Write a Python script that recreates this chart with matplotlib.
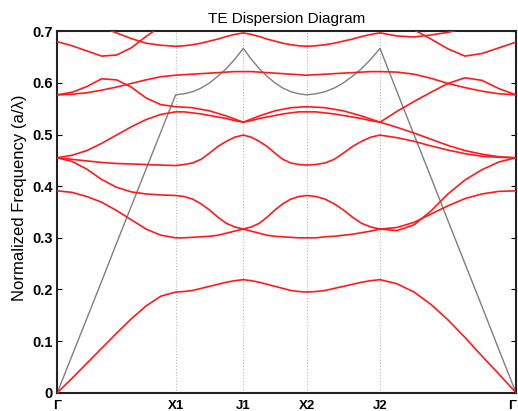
import matplotlib
matplotlib.use('Agg')
import matplotlib.pyplot as plt
import numpy as np

plt.rcParams['font.family'] = ['Liberation Sans', 'DejaVu Sans']

# high symmetry points along the path
K_LABELS = ['Γ', 'X1', 'J1', 'X2', 'J2', 'Γ']
K_POS = [0.0, 0.258, 0.4055, 0.5437, 0.7035, 1.0]
SEG_POINTS = [9, 9, 9, 9, 9]

# band frequencies (a/lambda) read along the path, 8 steps per segment
band1 = [0.0, 0.028, 0.057, 0.086, 0.115, 0.143, 0.168, 0.187, 0.195,
         0.196, 0.198, 0.202, 0.206, 0.210, 0.214, 0.217, 0.219,
         0.217, 0.214, 0.210, 0.206, 0.202, 0.198, 0.196, 0.195,
         0.196, 0.198, 0.202, 0.206, 0.210, 0.214, 0.217, 0.219,
         0.211, 0.195, 0.171, 0.141, 0.107, 0.071, 0.036, 0.0]
band2 = [0.391, 0.388, 0.380, 0.369, 0.353, 0.335, 0.317, 0.305, 0.300,
         0.300, 0.301, 0.302, 0.303, 0.305, 0.309, 0.313, 0.317,
         0.313, 0.309, 0.305, 0.303, 0.302, 0.301, 0.300, 0.300,
         0.300, 0.302, 0.303, 0.305, 0.307, 0.310, 0.313, 0.317,
         0.320, 0.330, 0.346, 0.362, 0.376, 0.385, 0.390, 0.391]
band3 = [0.455, 0.448, 0.433, 0.413, 0.398, 0.389, 0.385, 0.383, 0.382,
         0.380, 0.375, 0.366, 0.354, 0.340, 0.328, 0.321, 0.317,
         0.321, 0.328, 0.340, 0.354, 0.366, 0.375, 0.380, 0.382,
         0.380, 0.375, 0.366, 0.354, 0.340, 0.328, 0.321, 0.317,
         0.314, 0.325, 0.352, 0.385, 0.412, 0.432, 0.447, 0.455]
band4 = [0.455, 0.452, 0.449, 0.446, 0.444, 0.443, 0.442, 0.441, 0.440,
         0.442, 0.445, 0.452, 0.464, 0.477, 0.487, 0.495, 0.499,
         0.495, 0.487, 0.477, 0.464, 0.452, 0.445, 0.442, 0.441,
         0.442, 0.445, 0.452, 0.464, 0.477, 0.487, 0.495, 0.499,
         0.494, 0.487, 0.478, 0.470, 0.463, 0.458, 0.456, 0.455]
band5 = [0.455, 0.460, 0.469, 0.483, 0.499, 0.515, 0.529, 0.539, 0.544,
         0.544, 0.542, 0.540, 0.537, 0.534, 0.531, 0.527, 0.524,
         0.527, 0.531, 0.534, 0.537, 0.540, 0.542, 0.544, 0.544,
         0.544, 0.542, 0.540, 0.537, 0.534, 0.531, 0.527, 0.524,
         0.514, 0.503, 0.491, 0.479, 0.469, 0.462, 0.457, 0.455]
band6 = [0.577, 0.582, 0.593, 0.608, 0.606, 0.592, 0.571, 0.558, 0.554,
         0.553, 0.552, 0.549, 0.546, 0.541, 0.536, 0.530, 0.524,
         0.530, 0.536, 0.541, 0.546, 0.549, 0.552, 0.553, 0.554,
         0.553, 0.552, 0.549, 0.546, 0.541, 0.536, 0.530, 0.524,
         0.545, 0.564, 0.582, 0.599, 0.610, 0.605, 0.589, 0.577]
band7 = [0.577, 0.578, 0.581, 0.586, 0.592, 0.599, 0.606, 0.612, 0.615,
         0.616, 0.617, 0.618, 0.619, 0.620, 0.621, 0.622, 0.622,
         0.622, 0.621, 0.620, 0.619, 0.618, 0.617, 0.616, 0.615,
         0.616, 0.617, 0.618, 0.619, 0.620, 0.621, 0.622, 0.622,
         0.621, 0.617, 0.609, 0.599, 0.591, 0.584, 0.579, 0.577]
band8 = [0.680, 0.672, 0.662, 0.652, 0.654, 0.668, 0.690, 0.710, 0.725,
         0.73, 0.73, 0.73, 0.73, 0.73, 0.73, 0.73, 0.73,
         0.73, 0.73, 0.73, 0.73, 0.73, 0.73, 0.73, 0.73,
         0.73, 0.73, 0.73, 0.73, 0.73, 0.73, 0.73, 0.74,
         0.725, 0.703, 0.685, 0.666, 0.652, 0.657, 0.668, 0.679]
band9 = [0.735, 0.728, 0.718, 0.708, 0.697, 0.686, 0.677, 0.673, 0.671,
         0.672, 0.674, 0.677, 0.681, 0.685, 0.690, 0.694, 0.697,
         0.694, 0.690, 0.685, 0.681, 0.677, 0.674, 0.672, 0.671,
         0.672, 0.674, 0.677, 0.681, 0.685, 0.690, 0.694, 0.697,
         0.691, 0.689, 0.693, 0.698, 0.706, 0.714, 0.720, 0.725]
bands = [band1, band2, band3, band4, band5, band6, band7, band8, band9]

# light line
light_line = [0.0, 0.072, 0.144, 0.216, 0.289, 0.361, 0.433, 0.505, 0.577,
              0.579, 0.583, 0.590, 0.600, 0.613, 0.628, 0.646, 0.667,
              0.646, 0.628, 0.613, 0.600, 0.590, 0.583, 0.579, 0.577,
              0.579, 0.583, 0.590, 0.600, 0.613, 0.628, 0.646, 0.667,
              0.583, 0.500, 0.417, 0.333, 0.250, 0.167, 0.083, 0.0]


def path_x():
    xs = [K_POS[0]]
    for i, n in enumerate(SEG_POINTS):
        xs.extend(np.linspace(K_POS[i], K_POS[i + 1], n)[1:])
    return np.array(xs)


x = path_x()

fig = plt.figure(figsize=(5.18, 4.11), dpi=100)
ax = fig.add_axes([0.1106, 0.0445, 0.8855, 0.8793])

for kx in K_POS[1:-1]:
    ax.axvline(kx, color='#b8b8b8', linestyle=':', linewidth=0.8, zorder=1)

ax.plot(x, light_line, color='#7f7f7f', linewidth=1.0, zorder=2)
for b in bands:
    ax.plot(x, b, color='#ff1a1a', linewidth=1.2, zorder=3)

ax.set_xlim(0, 1)
ax.set_ylim(0, 0.7)
ax.set_xticks(K_POS)
ax.set_xticklabels(K_LABELS, fontsize=9.5, fontweight='bold')
ax.get_xticklabels()[-1].set_ha('right')
ax.set_yticks([0, 0.1, 0.2, 0.3, 0.4, 0.5, 0.6, 0.7])
ax.set_yticklabels(['0', '0.1', '0.2', '0.3', '0.4', '0.5', '0.6', '0.7'],
                   fontsize=10.5, fontweight='bold')
ax.tick_params(axis='x', length=0, pad=5)
ax.tick_params(axis='y', direction='in', right=True, length=3.5, pad=3)
for s in ax.spines.values():
    s.set_linewidth(1.5)
    s.set_color('#222222')

ax.set_title('TE Dispersion Diagram', fontsize=11, pad=6)
ax.set_ylabel('Normalized Frequency (a/λ)', fontsize=12)
ax.yaxis.set_label_coords(-0.067, 0.54)

plt.savefig('out.png', dpi=100)
